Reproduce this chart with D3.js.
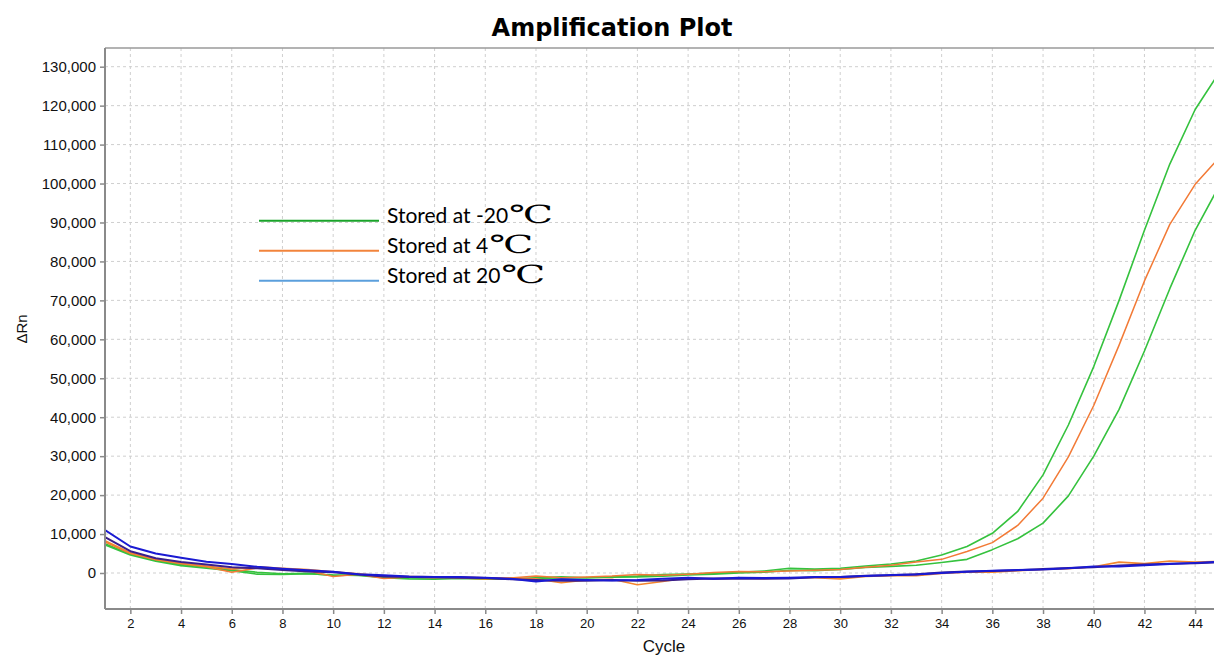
<!DOCTYPE html>
<html>
<head>
<meta charset="utf-8">
<script src="https://cdn.jsdelivr.net/npm/d3@7/dist/d3.min.js"></script>
<style>
  html, body { margin: 0; padding: 0; background: #fff; }
  svg { display: block; }
</style>
</head>
<body>
<svg id="chart" width="1214" height="656"></svg>
<script>
// ---- Data ----
const cycles = d3.range(1, 46);
const xTicks = d3.range(2, 46, 2);
const yTicks = d3.range(0, 130001, 10000);

// -20°C replicate 1 (green)
const green1 = [7500, 4800, 3200, 2200, 1500, 800, 200, -200, -100, -600, -500, -1000, -1200, -1300, -1200, -1400, -1500, -1200, -1000, -1200, -1000, -800, -400, -300, -100, 200, 500, 1200, 1000, 1200, 1800, 2300, 3100, 4600, 6800, 10200, 15800, 25200, 38000, 53000, 70000, 88000, 105000, 119000, 129000];
// -20°C replicate 2 (green)
const green2 = [7200, 4600, 3000, 1900, 1200, 600, -300, -400, -200, -500, -600, -1200, -1500, -1600, -1400, -1600, -1600, -1400, -1300, -1200, -1100, -1000, -800, -500, -300, 0, 200, 700, 600, 900, 1400, 1700, 2000, 2700, 3500, 6000, 8800, 12800, 19800, 30000, 42000, 57000, 73000, 88000, 100000];
// 4°C replicate 1 (orange, amplified)
const orange1 = [8000, 5000, 3400, 2400, 1600, 200, 1300, 900, 600, -900, -300, -1400, -1000, -1200, -1000, -1200, -1300, -800, -1200, -1000, -800, -400, -600, -300, 100, 400, 300, 500, 700, 900, 1500, 2000, 2800, 3500, 5500, 7800, 12200, 19200, 29800, 43000, 58500, 75000, 89500, 99800, 107000];
// 4°C replicate 2 (orange, flat)
const orange2 = [8300, 5200, 3500, 2500, 1800, 1000, 1600, 1200, 900, 300, -200, -800, -900, -1000, -1300, -1500, -1300, -1500, -2500, -1800, -1600, -3000, -2200, -1200, -1500, -1300, -1400, -1200, -1200, -1500, -900, -700, -700, -100, 200, 200, 600, 900, 1100, 1600, 2800, 2400, 3100, 2800, 3000];
// 20°C replicate 1 (blue)
const blue1 = [11000, 6800, 5000, 3900, 2900, 2300, 1600, 1100, 700, 300, -300, -600, -900, -1000, -1000, -1200, -1500, -2200, -1600, -1800, -1900, -1800, -1500, -1200, -1500, -1200, -1300, -1200, -1000, -1000, -800, -500, -400, 0, 300, 600, 800, 900, 1200, 1700, 1700, 2000, 2300, 2600, 2900];
// 20°C replicate 2 (navy)
const blue2 = [9200, 5600, 3800, 2800, 2200, 1500, 1200, 800, 400, 200, -400, -900, -1000, -1100, -1200, -1300, -1600, -1800, -2000, -2000, -1800, -2000, -1900, -1600, -1400, -1500, -1500, -1400, -1100, -1000, -700, -600, -300, 100, 400, 500, 700, 1000, 1300, 1500, 1900, 2200, 2400, 2500, 2800];

const legendLabels = ["Stored at -20", "Stored at 4", "Stored at 20"];
const legendColors = ["#1aa32a", "#f2843c", "#5b9fdc"];

const series = [
  { values: green1, color: "#35c23e", width: 1.6 },
  { values: green2, color: "#35c23e", width: 1.6 },
  { values: orange1, color: "#f27a36", width: 1.5 },
  { values: orange2, color: "#f4862e", width: 1.6 },
  { values: blue2, color: "#3a1f8c", width: 2 },
  { values: blue1, color: "#1a1ad2", width: 2 }
];

// ---- Layout ----
const svg = d3.select("#chart");
const pLeft = 105, pRight = 1220.5, pTop = 48, pBottom = 609;

const x = d3.scaleLinear().domain([1, 45]).range([pLeft, pRight]);
const y = d3.scaleLinear().domain([-9243, 134800]).range([pBottom, pTop]);

svg.append("defs").append("clipPath").attr("id", "clip")
  .append("rect").attr("x", pLeft).attr("y", pTop).attr("width", pRight - pLeft).attr("height", pBottom - pTop);

// Grid
const grid = svg.append("g");
grid.selectAll("line.v").data(xTicks).join("line").attr("class", "v")
  .attr("x1", d => x(d)).attr("x2", d => x(d))
  .attr("y1", pTop).attr("y2", pBottom)
  .attr("stroke", "#cfcfcf").attr("stroke-width", 1).attr("stroke-dasharray", "3,3");
grid.selectAll("line.h").data(yTicks).join("line").attr("class", "h")
  .attr("x1", pLeft).attr("x2", 1214)
  .attr("y1", d => y(d)).attr("y2", d => y(d))
  .attr("stroke", "#cfcfcf").attr("stroke-width", 1).attr("stroke-dasharray", "3,3");

// Lines
const line = d3.line().x((d, i) => x(cycles[i])).y(d => y(d));
svg.append("g").attr("clip-path", "url(#clip)")
  .selectAll("path").data(series).join("path")
  .attr("d", d => line(d.values))
  .attr("fill", "none")
  .attr("stroke", d => d.color)
  .attr("stroke-width", d => d.width)
  .attr("stroke-linejoin", "round");

// Frame
svg.append("line").attr("x1", pLeft).attr("x2", 1214).attr("y1", pTop).attr("y2", pTop)
  .attr("stroke", "#9a9a9a").attr("stroke-width", 1.5);

// Axes
const yAxis = d3.axisLeft(y).tickValues(yTicks).tickFormat(d3.format(",")).tickSize(5).tickPadding(4);
const gy = svg.append("g").attr("transform", `translate(${pLeft},0)`).call(yAxis);
gy.select(".domain").attr("stroke", "#8a8a8a").attr("stroke-width", 2).attr("d", `M0,${pTop}V${pBottom}`);
gy.selectAll(".tick line").attr("stroke", "#8a8a8a").attr("stroke-width", 1.5);
gy.selectAll(".tick text").attr("font-family", "'Liberation Sans', Arial, sans-serif").attr("font-size", 15).attr("fill", "#111");

const xAxis = d3.axisBottom(x).tickValues(xTicks).tickFormat(d3.format("d")).tickSize(5).tickPadding(5);
const gx = svg.append("g").attr("transform", `translate(0,${pBottom})`).call(xAxis);
gx.select(".domain").attr("stroke", "#8a8a8a").attr("stroke-width", 2).attr("d", `M${pLeft},0H1214`);
gx.selectAll(".tick line").attr("stroke", "#8a8a8a").attr("stroke-width", 1.5);
gx.selectAll(".tick text").attr("font-family", "'Liberation Sans', Arial, sans-serif").attr("font-size", 13).attr("fill", "#111");

// Titles
svg.append("text").attr("x", 612).attr("y", 36).attr("text-anchor", "middle")
  .attr("font-family", "'DejaVu Sans', 'Liberation Sans', sans-serif").attr("font-weight", "bold").attr("font-size", 24)
  .attr("fill", "#000").text("Amplification Plot");
svg.append("text").attr("x", 664).attr("y", 652).attr("text-anchor", "middle")
  .attr("font-family", "'Liberation Sans', Arial, sans-serif").attr("font-size", 17)
  .attr("fill", "#111").text("Cycle");
svg.append("text").attr("transform", "translate(27,329) rotate(-90)").attr("text-anchor", "middle")
  .attr("font-family", "'Liberation Sans', Arial, sans-serif").attr("font-size", 15)
  .attr("fill", "#111").text("ΔRn");

// Legend
const leg = svg.append("g");
const legY = d3.scaleLinear().domain([0, 2]).range([220.7, 280.7]);
leg.selectAll("line").data(legendLabels).join("line")
  .attr("x1", 259).attr("x2", 379)
  .attr("y1", (d, i) => legY(i)).attr("y2", (d, i) => legY(i))
  .attr("stroke", (d, i) => legendColors[i]).attr("stroke-width", 2);
const lt = leg.selectAll("text").data(legendLabels).join("text")
  .attr("x", 387).attr("y", (d, i) => legY(i) + 2.6)
  .attr("font-family", "Lato, 'Open Sans', sans-serif").attr("font-size", 21).attr("fill", "#000");
lt.append("tspan").text(d => d);
lt.append("tspan").attr("dx", 1)
  .attr("font-family", "'DejaVu Serif', 'Liberation Serif', serif").attr("font-size", 25)
  .attr("textLength", 44).attr("lengthAdjust", "spacingAndGlyphs").text("℃");
</script>
</body>
</html>
